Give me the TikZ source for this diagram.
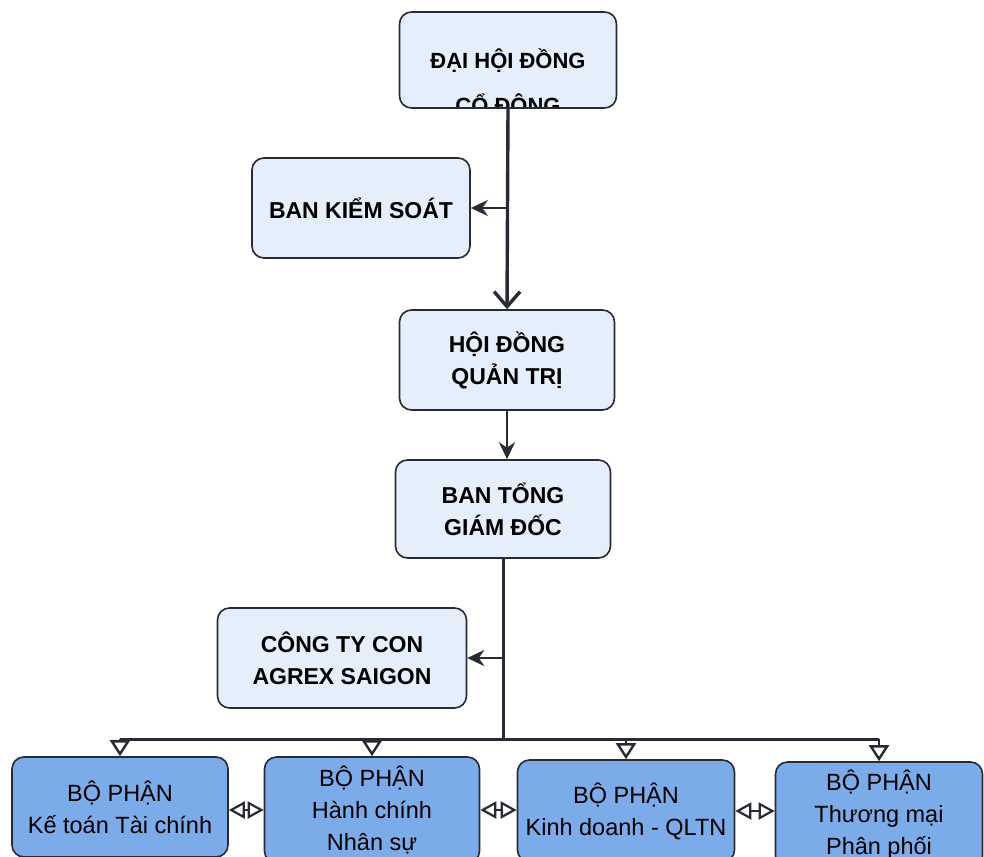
\documentclass[tikz,border=0pt]{standalone}
\usepackage{fontspec}
\setmainfont{Liberation Sans}
\usetikzlibrary{arrows.meta,positioning}
\definecolor{boxline}{RGB}{40,42,52}
\definecolor{lightblue}{RGB}{228,239,251}
\definecolor{deptblue}{RGB}{124,171,233}

\begin{document}
\begin{tikzpicture}[x=1pt,y=-1pt,
  box/.style={draw=boxline,line width=1.6pt,rounded corners=12pt,fill=lightblue,minimum width=215pt,minimum height=100pt,inner sep=0pt,align=center,font=\fontsize{23}{32}\selectfont\bfseries},
  dept/.style={box,fill=deptblue,font=\fontsize{23.5}{32}\selectfont},
  link/.style={draw=boxline,line width=2.8pt,-{Stealth[length=17pt,width=16pt]}},
  mainlink/.style={draw=boxline,line width=3.4pt,-{Straight Barb[length=15pt,width=26pt,line width=3.4pt]}},
  drop/.style={draw=boxline,line width=2.4pt,-{Triangle[open,length=16pt,width=20pt,line width=2.4pt]}},
  peer/.style={draw=boxline,line width=2.2pt,{Triangle[open,length=16pt,width=17pt]}-{Triangle[open,length=16pt,width=17pt]}}]
  \useasboundingbox (0,0) rectangle (984,856);
  \clip (0,0) rectangle (984,856);

  \node[box,minimum width=217pt,minimum height=96pt] (dh) at (508,60) {};
  \begin{scope}
    \clip[rounded corners=12pt] (400,12) rectangle (616,107);
    \node[font=\fontsize{22}{45}\selectfont\bfseries,align=center] (dhtext) at (508,81) {ĐẠI HỘI ĐỒNG\\CỔ ĐÔNG};
  \end{scope}
  \node[box,minimum width=218pt] (bks) at (361,208) {BAN KIỂM SOÁT};
  \node[box] (hdqt) at (507,360) {HỘI ĐỒNG\\QUẢN TRỊ};
  \node[box,minimum height=98pt] (btgd) at (503,509) {BAN TỔNG\\GIÁM ĐỐC};
  \node[box,minimum width=249pt] (cty) at (342,658) {CÔNG TY CON\\AGREX SAIGON};

  \foreach \n/\x/\y/\w/\h/\t in {b1/120/807/216/100/{BỘ PHẬN\\Kế toán Tài chính},
      b2/372/810/215/106/{BỘ PHẬN\\Hành chính\\Nhân sự},
      b3/626/811/217/102/{BỘ PHẬN\\Kinh doanh - QLTN},
      b4/879/815/207/106/{BỘ PHẬN\\Thương mại\\Phân phối}}
    \node[dept,minimum width=\w pt,minimum height=\h pt] (\n) at (\x,\y) {\t};

  \coordinate (j1) at (dh.south |- bks.east);
  \coordinate (j2) at (btgd.south |- cty.east);
  \coordinate (bus) at (btgd.south |- 0,739);

  \draw[mainlink] (dh.south) -- (hdqt.north);
  \draw[link] (j1) -- (bks.east);
  \draw[link] (hdqt.south) -- (hdqt.south |- btgd.north);
  \draw[draw=boxline,line width=3pt] (btgd.south) -- (bus);
  \draw[link] (j2) -- (cty.east);
  \draw[draw=boxline,line width=3pt] (b1.north |- bus) -- (b4.north |- bus);
  \foreach \n in {b1,b2,b3,b4}
    \draw[drop] (\n.north |- bus) -- (\n.north);

  \draw[peer] (b1.east |- b2.west) -- (b2.west);
  \draw[peer] (b2.east) -- (b3.west |- b2.east);
  \draw[peer] (b3.east) -- (b4.west |- b3.east);
\end{tikzpicture}
\end{document}
